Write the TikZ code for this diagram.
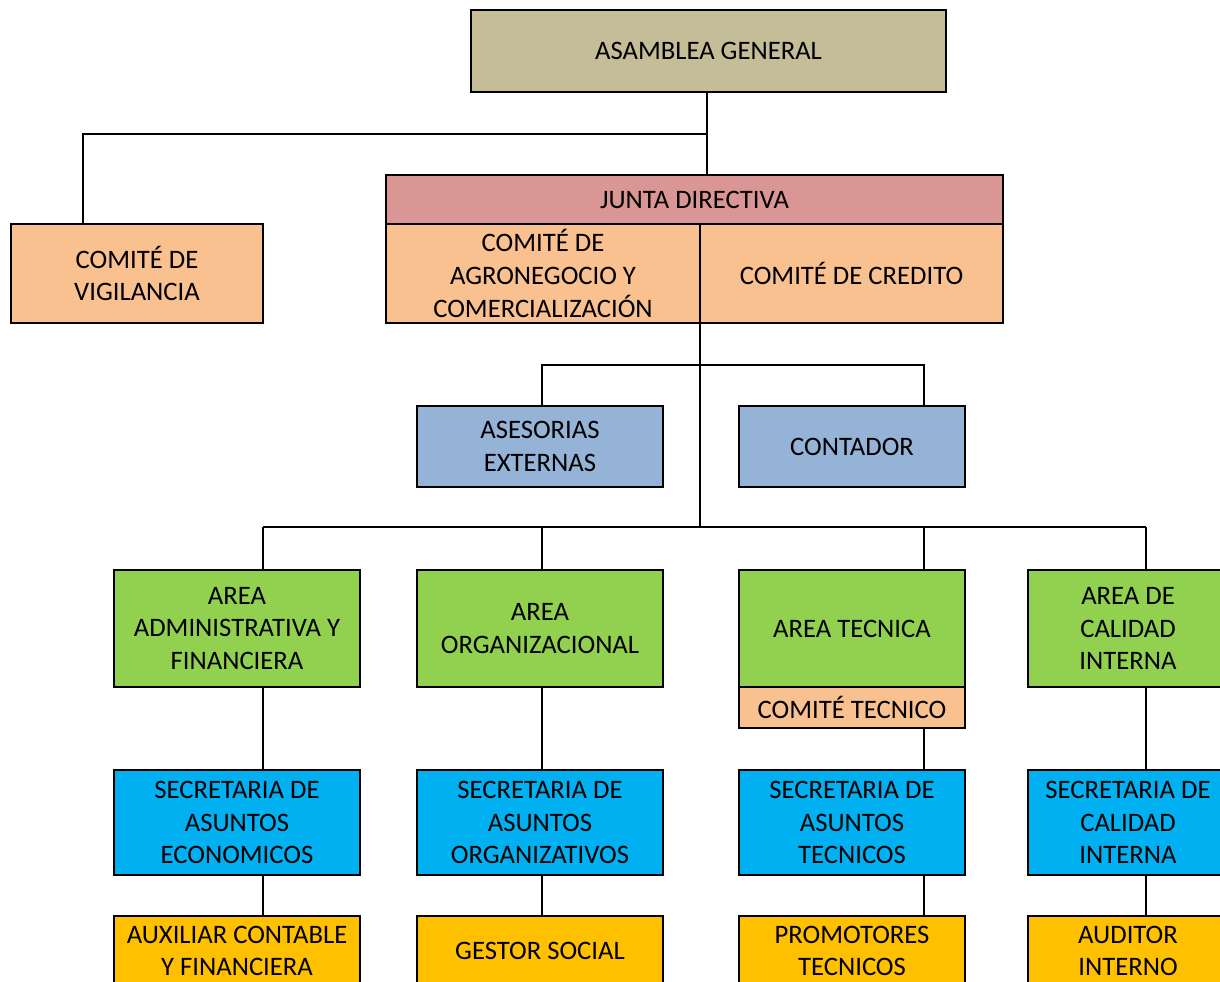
\documentclass[tikz,border=0pt]{standalone}
\usepackage{fontspec}
\setmainfont{Carlito}
\definecolor{khaki}{HTML}{C4BD97}
\definecolor{junta}{HTML}{D99694}
\definecolor{peach}{HTML}{F9C090}
\definecolor{lblue}{HTML}{95B3D7}
\definecolor{lgreen}{HTML}{92D050}
\definecolor{cyanb}{HTML}{00B0F0}
\definecolor{gold}{HTML}{FFC000}
\tikzset{
  box/.style={draw=black, line width=1.5pt, inner sep=0pt, align=center,
    font=\fontsize{20}{24.5}\selectfont},
  link/.style={draw=black, line width=1.5pt}
}
\newcommand\mybox[7]{\node[box, fill=#2, minimum width={(#5-#3)*0.75pt}, minimum height={(#6-#4)*0.75pt}] (#1) at ({(#3+#5)/2},{(#4+#6)/2}) {#7};}
\begin{document}
\begin{tikzpicture}[x=0.75pt,y=-0.75pt]
\useasboundingbox (0,0) rectangle (1220,981);
\fill[white] (0,0) rectangle (1220,981);
% nodes
\mybox{asam}{khaki}{471}{10}{946}{92}{ASAMBLEA GENERAL}
\mybox{vig}{peach}{11}{224}{263}{323}{COMITÉ DE\\VIGILANCIA}
\mybox{junta}{junta}{386}{175}{1003}{224}{JUNTA DIRECTIVA}
\mybox{agro}{peach}{386}{224}{700}{323}{COMITÉ DE\\AGRONEGOCIO Y\\COMERCIALIZACIÓN}
\mybox{cred}{peach}{700}{224}{1003}{323}{COMITÉ DE CREDITO}
\mybox{ases}{lblue}{417}{406}{663}{487}{ASESORIAS\\EXTERNAS}
\mybox{cont}{lblue}{739}{406}{965}{487}{CONTADOR}
\mybox{aadm}{lgreen}{114}{570}{360}{687}{AREA\\ADMINISTRATIVA Y\\FINANCIERA}
\mybox{aorg}{lgreen}{417}{570}{663}{687}{AREA\\ORGANIZACIONAL}
\mybox{atec}{lgreen}{739}{570}{965}{687}{AREA TECNICA}
\mybox{ctec}{peach}{739}{687}{965}{728}{COMITÉ TECNICO}
\mybox{acal}{lgreen}{1028}{570}{1228}{687}{AREA DE\\CALIDAD\\INTERNA}
\mybox{sadm}{cyanb}{114}{770}{360}{875}{SECRETARIA DE\\ASUNTOS\\ECONOMICOS}
\mybox{sorg}{cyanb}{417}{770}{663}{875}{SECRETARIA DE\\ASUNTOS\\ORGANIZATIVOS}
\mybox{stec}{cyanb}{739}{770}{965}{875}{SECRETARIA DE\\ASUNTOS\\TECNICOS}
\mybox{scal}{cyanb}{1028}{770}{1228}{875}{SECRETARIA DE\\CALIDAD\\INTERNA}
\mybox{xaux}{gold}{114}{916}{360}{986}{AUXILIAR CONTABLE\\Y FINANCIERA}
\mybox{xges}{gold}{417}{916}{663}{986}{GESTOR SOCIAL}
\mybox{xpro}{gold}{739}{916}{965}{986}{PROMOTORES\\TECNICOS}
\mybox{xaud}{gold}{1028}{916}{1228}{986}{AUDITOR\\INTERNO}
% bus points
\coordinate (k0) at (707,134);
\coordinate (kv) at (83,134);
\coordinate (k1) at (700,365);
\coordinate (k2) at (700,527);
\coordinate (ka) at (542,365);
\coordinate (kc) at (924,365);
\coordinate (c1) at (263,527);
\coordinate (c2) at (542,527);
\coordinate (c3) at (924,527);
\coordinate (c4) at (1146,527);
% connectors
\draw[link] (asam.south -| k0) -- (junta.north -| k0);
\draw[link] (k0) -- (kv) -- (vig.north -| kv);
\draw[link] (agro.south -| k2) -- (k2);
\draw[link] (ases.north -| ka) -- (ka) -- (kc) -- (cont.north -| kc);
\draw[link] (c1) -- (c4);
\draw[link] (aadm.north -| c1) -- (c1);
\draw[link] (aorg.north -| c2) -- (c2);
\draw[link] (atec.north -| c3) -- (c3);
\draw[link] (acal.north -| c4) -- (c4);
\draw[link] (aadm.south -| c1) -- (sadm.north -| c1);
\draw[link] (aorg.south -| c2) -- (sorg.north -| c2);
\draw[link] (ctec.south -| c3) -- (stec.north -| c3);
\draw[link] (acal.south -| c4) -- (scal.north -| c4);
\draw[link] (sadm.south -| c1) -- (xaux.north -| c1);
\draw[link] (sorg.south -| c2) -- (xges.north -| c2);
\draw[link] (stec.south -| c3) -- (xpro.north -| c3);
\draw[link] (scal.south -| c4) -- (xaud.north -| c4);
\end{tikzpicture}
\end{document}
